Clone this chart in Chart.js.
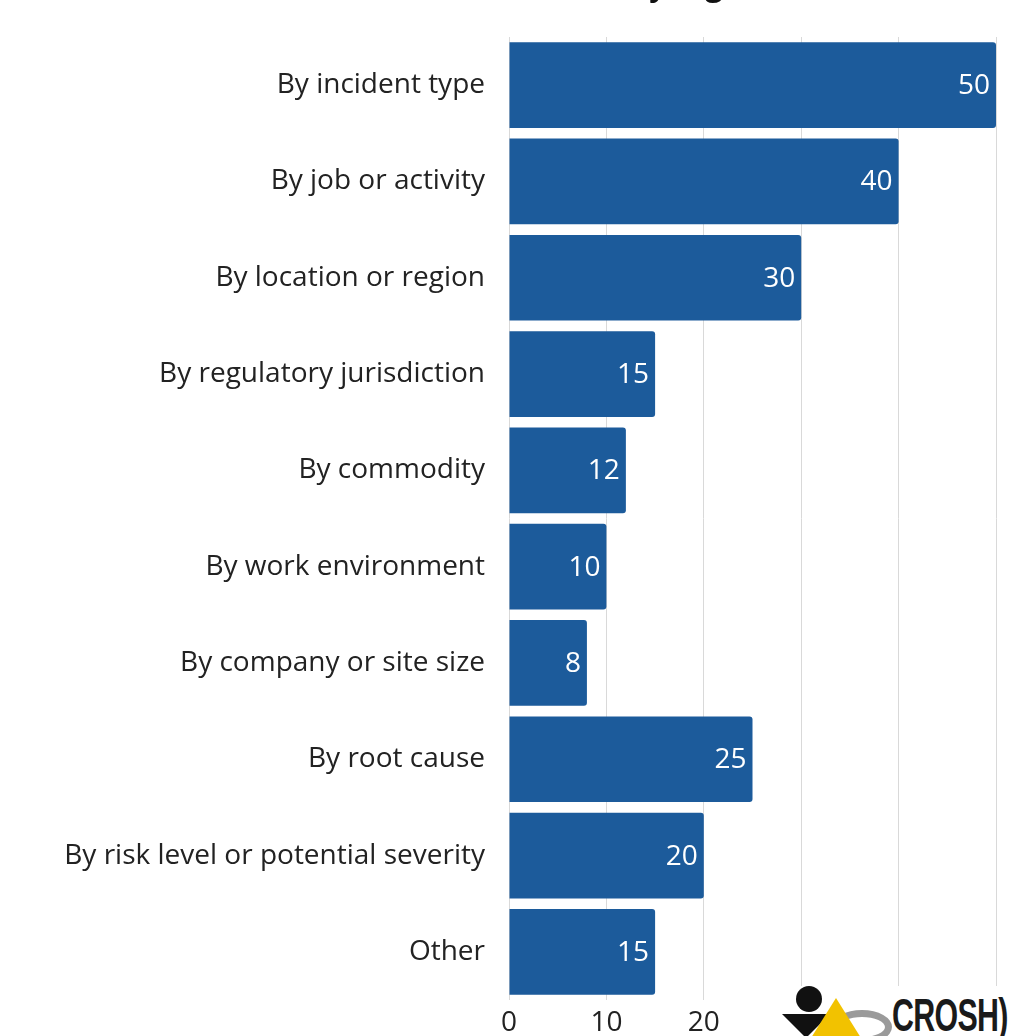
<!DOCTYPE html>
<html>
<head>
<meta charset="utf-8">
<script src="https://cdn.jsdelivr.net/npm/chart.js@4/dist/chart.umd.min.js"></script>
<style>
  html, body { margin: 0; padding: 0; background: #fff; overflow: hidden; }
  #wrap { position: relative; width: 1030px; height: 1036px; }
  #logo {
    position: absolute; left: 782px; top: 986px; width: 248px; height: 50px;
    background: #fff; overflow: hidden;
  }
  #logo .head { position: absolute; left: 14px; top: 0; width: 26px; height: 26px; border-radius: 50%; background: #111; }
  #logo .body { position: absolute; left: 0; top: 28px; width: 0; height: 0;
    border-left: 24px solid transparent; border-right: 24px solid transparent; border-top: 24px solid #111; }
  #logo .ring { position: absolute; left: 50px; top: 24px; width: 60px; height: 34px; border-radius: 50%;
    border: 7px solid #9a9a9a; box-sizing: border-box; }
  #logo .tri { position: absolute; left: 24px; top: 12px; width: 0; height: 0;
    border-left: 30px solid transparent; border-right: 30px solid transparent; border-bottom: 48px solid #f2c200; }
  #logo .txt { position: absolute; left: 110px; top: 4px; font-family: "Liberation Sans", "DejaVu Sans", sans-serif;
    font-weight: bold; font-size: 46px; line-height: 50px; color: #1a1a1a; letter-spacing: -1px;
    transform: scaleX(0.66); transform-origin: left top; white-space: nowrap; }
</style>
</head>
<body>
<div id="wrap">
  <canvas id="myChart" width="1030" height="1036"></canvas>
  <div id="logo">
    <div class="ring"></div>
    <div class="head"></div>
    <div class="body"></div>
    <div class="tri"></div>
    <div class="txt">CROSH)</div>
  </div>
</div>
<script>
// data
const categories = [
  "By incident type",
  "By job or activity",
  "By location or region",
  "By regulatory jurisdiction",
  "By commodity",
  "By work environment",
  "By company or site size",
  "By root cause",
  "By risk level or potential severity",
  "Other"
];
const values = [50, 40, 30, 15, 12, 10, 8, 25, 20, 15];
const xTicks = [0, 10, 20, 30, 40, 50];
const titleText = "Trends by region";

const barColor = "#1c5b9b";
const fontFamily = "'Open Sans', 'Noto Sans', sans-serif";

// title sits above the canvas, only its descenders show
const clippedTitle = {
  id: "clippedTitle",
  afterDraw(chart) {
    const c = chart.ctx;
    c.save();
    c.font = "bold 30px " + fontFamily;
    c.fillStyle = "#111";
    c.textAlign = "center";
    c.textBaseline = "alphabetic";
    c.fillText(titleText, 645, -4);
    c.restore();
  }
};

// value labels inside bar end
const valueLabels = {
  id: "valueLabels",
  afterDatasetsDraw(chart) {
    const c = chart.ctx;
    const meta = chart.getDatasetMeta(0);
    c.save();
    c.font = "28px " + fontFamily;
    c.fillStyle = "#fff";
    c.textAlign = "right";
    c.textBaseline = "middle";
    meta.data.forEach((bar, i) => {
      c.fillText(String(values[i]), bar.x - 6, bar.y + 1);
    });
    c.restore();
  }
};

var ctx = document.getElementById("myChart").getContext("2d");

var myChart = new Chart(ctx, {
  type: "bar",
  data: {
    labels: categories,
    datasets: [{
      data: values,
      backgroundColor: barColor,
      borderWidth: 0,
      borderRadius: 3,
      borderSkipped: "start",
      categoryPercentage: 0.89,
      barPercentage: 1.0
    }]
  },
  options: {
    indexAxis: "y",
    responsive: false,
    animation: false,
    layout: { padding: { top: 37, right: 34, left: 0, bottom: 0 } },
    plugins: {
      legend: { display: false },
      tooltip: { enabled: false },
      title: { display: false }
    },
    scales: {
      x: {
        min: 0,
        max: 50,
        afterBuildTicks: (scale) => { scale.ticks = xTicks.map(v => ({ value: v })); },
        afterFit: (scale) => { scale.height = 36; },
        grid: { color: "#d9d9d9", lineWidth: 1, drawTicks: false },
        border: { display: false },
        ticks: {
          padding: 6,
          color: "#222",
          font: { family: fontFamily, size: 28 }
        }
      },
      y: {
        afterFit: (scale) => { scale.width = 509; },
        grid: { display: false },
        border: { display: false },
        ticks: {
          padding: 16,
          color: "#222",
          font: { family: fontFamily, size: 28 }
        }
      }
    }
  },
  plugins: [valueLabels, clippedTitle]
});
</script>
</body>
</html>
